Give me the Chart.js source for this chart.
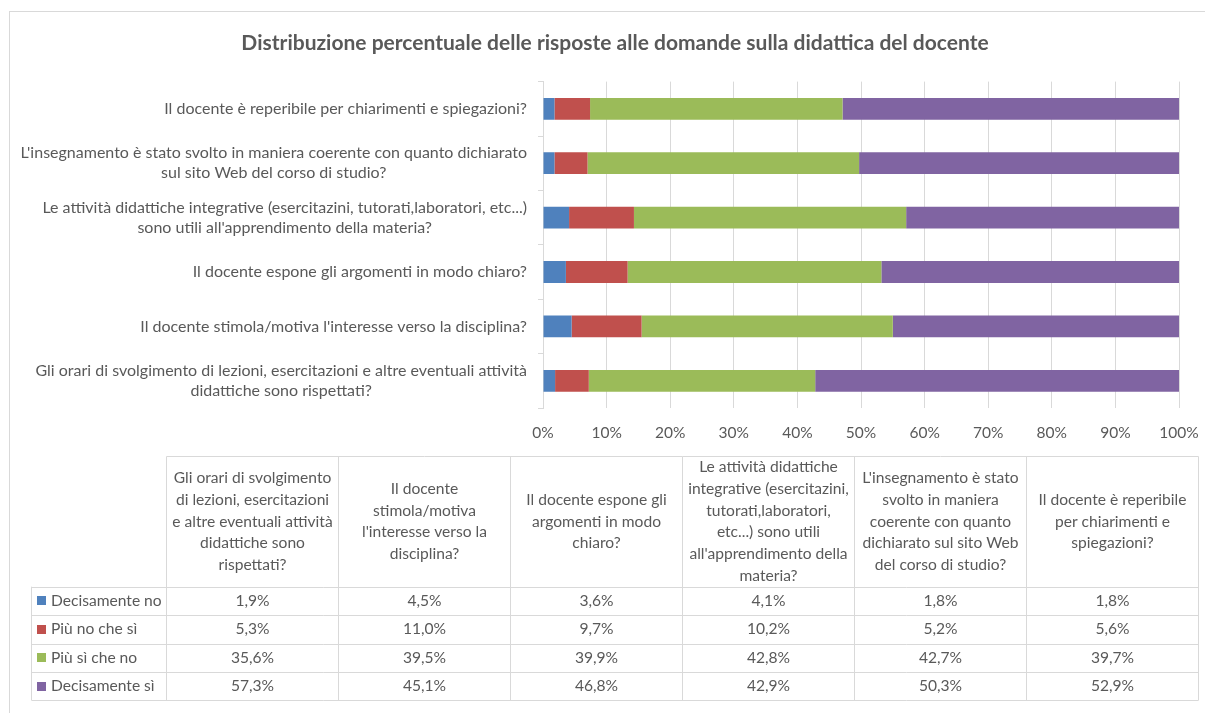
<!DOCTYPE html>
<html>
<head>
<meta charset="utf-8">
<script src="https://cdn.jsdelivr.net/npm/chart.js@4.4.1/dist/chart.umd.min.js"></script>
<style>
  html, body { margin: 0; padding: 0; background: #fff; overflow: hidden; }
  #frame { position: absolute; left: 9px; top: 11px; width: 1210px; height: 701px; border: 1px solid #d9d9d9; }
  canvas { display: block; }
</style>
</head>
<body>
<div id="frame"><canvas id="chart" width="1210" height="701"></canvas></div>
<script>
// categories in table order (first one is drawn at the bottom of the chart)
const categories = [
    'Gli orari di svolgimento di lezioni, esercitazioni e altre eventuali attività didattiche sono rispettati?',
    "Il docente stimola/motiva l'interesse verso la disciplina?",
    'Il docente espone gli argomenti in modo chiaro?',
    "Le attività didattiche integrative (esercitazini, tutorati,laboratori, etc...) sono utili all'apprendimento della materia?",
    "L'insegnamento è stato svolto in maniera coerente con quanto dichiarato sul sito Web del corso di studio?",
    'Il docente è reperibile per chiarimenti e spiegazioni?'
];

const axisLabels = [
    ['Gli orari di svolgimento di lezioni, esercitazioni e altre eventuali attività', 'didattiche sono rispettati?'],
    ["Il docente stimola/motiva l'interesse verso la disciplina?"],
    ['Il docente espone gli argomenti in modo chiaro?'],
    ['Le attività didattiche integrative (esercitazini, tutorati,laboratori, etc...)', "sono utili all'apprendimento della materia?"],
    ["L'insegnamento è stato svolto in maniera coerente con quanto dichiarato", 'sul sito Web del corso di studio?'],
    ['Il docente è reperibile per chiarimenti e spiegazioni?']
];

const headerLines = [
    ['Gli orari di svolgimento', 'di lezioni, esercitazioni', 'e altre eventuali attività', 'didattiche sono', 'rispettati?'],
    ['Il docente', 'stimola/motiva', "l'interesse verso la", 'disciplina?'],
    ['Il docente espone gli', 'argomenti in modo', 'chiaro?'],
    ['Le attività didattiche', 'integrative (esercitazini,', 'tutorati,laboratori,', 'etc...) sono utili', "all'apprendimento della", 'materia?'],
    ["L'insegnamento è stato", 'svolto in maniera', 'coerente con quanto', 'dichiarato sul sito Web', 'del corso di studio?'],
    ['Il docente è reperibile', 'per chiarimenti e', 'spiegazioni?']
];

const seriesNames = ['Decisamente no', 'Più no che sì', 'Più sì che no', 'Decisamente sì'];
const seriesColors = ['#4f81bd', '#c0504d', '#9bbb59', '#8064a2'];

const decisamenteNo = [1.9, 4.5, 3.6, 4.1, 1.8, 1.8];
const piuNoCheSi = [5.3, 11.0, 9.7, 10.2, 5.2, 5.6];
const piuSiCheNo = [35.6, 39.5, 39.9, 42.8, 42.7, 39.7];
const decisamenteSi = [57.3, 45.1, 46.8, 42.9, 50.3, 52.9];
const seriesValues = [decisamenteNo, piuNoCheSi, piuSiCheNo, decisamenteSi];

const FONT = 'Lato, "Open Sans", sans-serif';
const TEXT = '#595959';
const LINE = '#d9d9d9';

function pct(v) {
    return v.toFixed(1).replace('.', ',') + '%';
}

// multi-line category labels, lines centred on each other, block right aligned
const axisLabelPlugin = {
    id: 'axisLabels',
    afterDraw(chart) {
        const ctx = chart.ctx;
        const yScale = chart.scales.y;
        const left = chart.chartArea.left;
        ctx.save();
        ctx.font = '16px ' + FONT;
        ctx.fillStyle = TEXT;
        ctx.textAlign = 'center';
        ctx.textBaseline = 'middle';
        axisLabels.forEach(function (lines, i) {
            const cy = yScale.getPixelForValue(i);
            const w = Math.max.apply(null, lines.map(l => ctx.measureText(l).width));
            const cx = left - 16 - w / 2;
            lines.forEach(function (line, j) {
                ctx.fillText(line, cx, cy + (j - (lines.length - 1) / 2) * 20);
            });
        });
        ctx.restore();
    }
};

// data table under the chart
const tablePlugin = {
    id: 'dataTable',
    afterDraw(chart) {
        const ctx = chart.ctx;
        const keyLeft = 21.5, colLeft = 156.5, colW = 172;
        const top = 444.5, headH = 130.2, rowH = 28.4;
        const right = colLeft + colW * categories.length;
        const bottom = top + headH + rowH * seriesNames.length;

        ctx.save();
        ctx.strokeStyle = LINE;
        ctx.lineWidth = 1;
        ctx.beginPath();
        ctx.moveTo(colLeft, top); ctx.lineTo(right, top);
        for (let r = 0; r <= seriesNames.length; r++) {
            const y = Math.round(top + headH + r * rowH) + 0.5;
            ctx.moveTo(keyLeft, y); ctx.lineTo(right, y);
        }
        ctx.moveTo(keyLeft, top + headH); ctx.lineTo(keyLeft, bottom);
        for (let c = 0; c <= categories.length; c++) {
            const x = colLeft + c * colW;
            ctx.moveTo(x, top); ctx.lineTo(x, bottom);
        }
        ctx.stroke();

        ctx.font = '15.6px ' + FONT;
        ctx.fillStyle = TEXT;
        ctx.textBaseline = 'middle';
        ctx.textAlign = 'center';
        headerLines.forEach(function (lines, c) {
            const cx = colLeft + c * colW + colW / 2;
            const cy = top + headH / 2;
            lines.forEach(function (line, j) {
                ctx.fillText(line, cx, cy + (j - (lines.length - 1) / 2) * 21.7);
            });
        });

        seriesNames.forEach(function (name, r) {
            const cy = top + headH + r * rowH + rowH / 2;
            ctx.fillStyle = seriesColors[r];
            ctx.fillRect(27, Math.round(cy - 4.5), 9, 9);
            ctx.fillStyle = TEXT;
            ctx.textAlign = 'left';
            ctx.fillText(name, 41, cy);
            ctx.textAlign = 'center';
            seriesValues[r].forEach(function (v, c) {
                ctx.fillText(pct(v), colLeft + c * colW + colW / 2, cy);
            });
        });
        ctx.restore();
    }
};

const ctx = document.getElementById('chart').getContext('2d');
new Chart(ctx, {
    type: 'bar',
    data: {
        labels: categories,
        datasets: seriesNames.map(function (name, i) {
            return {
                label: name,
                data: seriesValues[i],
                backgroundColor: seriesColors[i],
                borderWidth: 0,
                categoryPercentage: 1,
                barPercentage: 0.4
            };
        })
    },
    options: {
        indexAxis: 'y',
        responsive: false,
        animation: false,
        layout: {
            padding: { left: 41, right: 41, top: 0, bottom: 265 }
        },
        scales: {
            x: {
                stacked: true,
                min: 0,
                max: 100,
                grid: { color: LINE, drawTicks: false },
                border: { display: false },
                ticks: {
                    stepSize: 10,
                    padding: 15.5,
                    color: TEXT,
                    font: { family: FONT, size: 15.5 },
                    callback: v => v + '%'
                },
                afterFit: s => { s.height = 40; }
            },
            y: {
                stacked: true,
                reverse: true,
                grid: { color: LINE, drawOnChartArea: false, tickLength: 5 },
                border: { display: true, color: LINE },
                ticks: { display: false },
                afterFit: s => { s.width = 492; }
            }
        },
        plugins: {
            legend: { display: false },
            title: {
                display: true,
                text: 'Distribuzione percentuale delle risposte alle domande sulla didattica del docente',
                color: TEXT,
                font: { family: FONT, size: 21, weight: 'bold' },
                padding: { top: 18.8, bottom: 25.6 }
            }
        }
    },
    plugins: [axisLabelPlugin, tablePlugin]
});
</script>
</body>
</html>
